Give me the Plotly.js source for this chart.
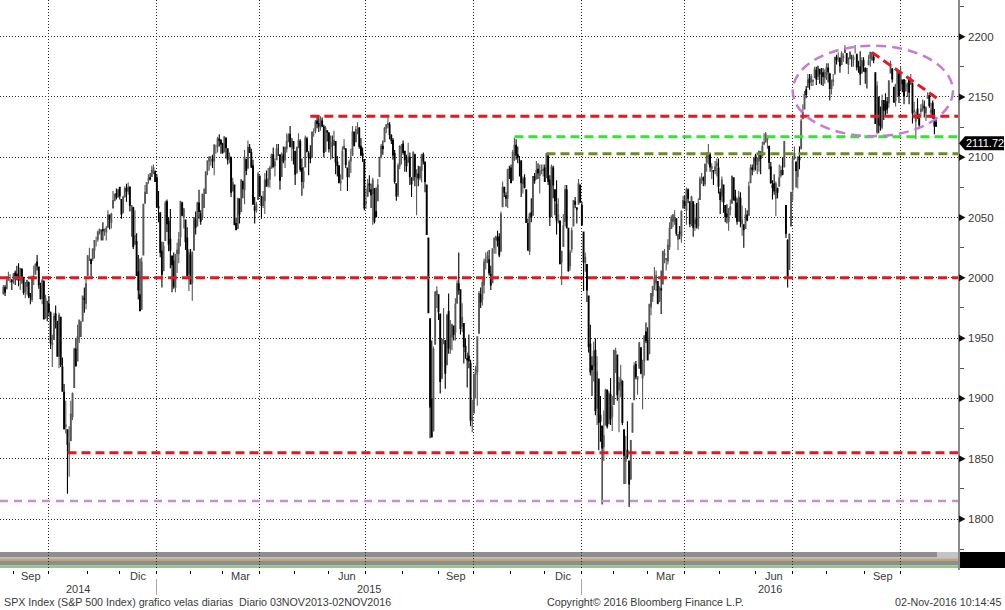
<!DOCTYPE html>
<html><head><meta charset="utf-8">
<script src="https://cdn.plot.ly/plotly-3.0.1.min.js"></script>
<style>html,body{margin:0;padding:0;background:#fff;}#chart{width:1005px;height:610px;}</style>
</head><body><div id="chart"></div>
<script>
// ---------- DATA ----------
const startDate = '2014-08-21';
const endDate = '2016-11-01';
const holidays = ['2014-09-01','2014-11-27','2014-12-25','2015-01-01','2015-01-19','2015-02-16','2015-04-03','2015-05-25','2015-07-03','2015-09-07','2015-11-26','2015-12-25','2016-01-01','2016-01-18','2016-02-15','2016-03-25','2016-05-30','2016-07-04','2016-09-05'];

const open = [
1987,1992,1991,1998,2000,1998,1999,
2004,2003,2001,1998,2007,2000,1989,1993,1996,1987,1982,1999,2003,2013,2009,1993,1983,1997,1967,1978,1978,
1971,1945,1949,1970,1964,1935,1967,1926,1905,1877,1874,1855,1865,1885,1909,1941,1931,1951,1962,1964,1983,1979,2002,
2018,2015,2016,2023,2032,2032,2038,2038,2040,2039,2038,2042,2052,2046,2058,2064,2070,2067,2075,
2065,2054,2067,2074,2072,2075,2056,2058,2028,2030,2005,1986,1974,2019,2062,2070,2081,2083,2084,2087,2088,2083,
2059,2054,2022,2006,2031,2063,2047,2032,2018,2014,1992,2020,2020,2034,2062,2050,2048,2033,2003,2019,
1996,2023,2048,2043,2062,2053,2050,2068,2070,2089,2097,2100,2098,2097,2110,2109,2115,2114,2111,
2105,2116,2107,2099,2100,2072,2077,2045,2041,2065,2055,2080,2073,2098,2091,2108,2104,2093,2059,2056,2065,2084,
2067,2060,2064,2081,2077,2082,2091,2102,2093,2098,2105,2102,2084,2102,2098,2107,2113,2119,2109,2113,2105,
2087,2108,2113,2091,2080,2092,2115,2103,2100,2100,2123,2122,2130,2128,2125,2130,2125,2105,2122,2120,
2109,2110,2110,2113,2096,2093,2079,2082,2107,2107,2091,2084,2097,2102,2121,2113,2124,2124,2109,2103,2098,2062,
2068,2078,2073,2070,2074,2055,2064,2084,2100,2109,2113,2124,2127,2127,2118,2114,2103,2078,2069,2093,2107,2111,
2105,2097,2096,2100,2083,2081,2102,2082,2086,2083,2089,2102,2096,2077,2033,1966,1899,1873,1945,1986,1986,
1970,1917,1951,1948,1928,1972,1941,1951,1960,1955,1979,1995,1990,1960,1962,1943,1933,1935,1929,1882,1888,
1920,1922,1954,1986,1982,1994,2013,2016,2015,2003,1996,2025,2032,2033,2034,2022,2059,2075,2068,2066,2089,2091,
2081,2102,2110,2102,2099,2097,2078,2083,2073,2045,2022,2054,2052,2084,2082,2090,2085,2089,2089,2091,
2083,2101,2081,2051,2091,2073,2061,2047,2047,2013,2026,2047,2073,2041,2010,2024,2043,2063,2058,2061,2077,2060,
2038,2013,2011,1985,1945,1927,1927,1940,1892,1916,1886,1877,1860,1878,1907,1879,1903,1885,1895,
1937,1936,1907,1911,1914,1874,1848,1857,1848,1833,1872,1899,1928,1916,1925,1942,1917,1931,1955,1948,
1937,1976,1985,1994,1996,1997,1981,1991,1995,2019,2015,2014,2026,2041,2047,2048,2049,2032,2038,2035,2058,2063,
2056,2073,2063,2046,2063,2045,2050,2043,2065,2083,2083,2078,2096,2100,2102,2091,2089,2089,2093,2091,2071,
2068,2077,2060,2053,2047,2057,2062,2083,2067,2062,2047,2066,2045,2044,2041,2052,2052,2079,2091,2090,2101,
2094,2097,2104,2101,2111,2113,2115,2109,2092,2077,2078,2066,2074,2076,2085,2089,2092,2060,2031,2007,2043,2073,
2099,2096,2084,2100,2107,2132,2140,2156,2158,2165,2163,2163,2166,2172,2167,2173,2169,2170,2166,2169,
2174,2169,2157,2163,2169,2183,2182,2182,2177,2183,2187,2186,2177,2182,2184,2181,2187,2185,2173,2175,2170,2180,2174,
2171,2177,2182,2186,2183,2170,2121,2150,2128,2125,2147,2144,2146,2145,2170,2173,2158,2147,2161,2169,2156,
2164,2164,2155,2159,2164,2161,2161,2138,2130,2140,2132,2138,2140,2142,2137,2149,2151,2137,2145,2133,
2129
];
const high = [
1994,1994,2001,2005,2003,1999,2004,
2006,2010,2012,2008,2008,2001,1996,1998,1997,1987,2002,2010,2012,2019,2009,1996,1999,1998,1986,1981,1985,
1972,1953,1971,1977,1964,1971,1968,1934,1912,1898,1874,1877,1898,1905,1942,1950,1961,1965,1964,1985,1992,1999,2019,
2025,2016,2024,2031,2034,2039,2041,2040,2046,2041,2043,2056,2052,2054,2072,2070,2074,2073,2075,
2065,2068,2076,2078,2079,2076,2060,2059,2056,2037,2019,2016,2017,2061,2077,2079,2086,2087,2093,2094,2089,2086,
2072,2054,2030,2030,2064,2065,2050,2057,2018,2021,2020,2029,2038,2064,2063,2058,2048,2042,2024,2024,
2022,2050,2055,2063,2073,2056,2070,2074,2088,2097,2101,2101,2102,2111,2110,2117,2119,2115,2112,
2117,2116,2107,2104,2100,2083,2077,2050,2066,2066,2082,2080,2106,2099,2114,2111,2107,2098,2067,2063,2088,2085,
2068,2072,2087,2089,2091,2093,2103,2108,2099,2111,2111,2102,2104,2109,2109,2120,2120,2126,2116,2113,2105,
2109,2120,2115,2099,2092,2118,2117,2105,2110,2121,2124,2131,2134,2135,2134,2133,2127,2126,2122,2121,
2118,2118,2122,2113,2101,2093,2086,2109,2115,2107,2091,2098,2107,2126,2121,2126,2129,2125,2116,2108,2098,2074,
2082,2085,2078,2083,2074,2075,2082,2100,2111,2114,2125,2127,2133,2129,2119,2116,2106,2078,2095,2110,2111,2114,
2105,2102,2112,2104,2083,2105,2103,2090,2093,2092,2103,2104,2096,2077,2033,1966,1948,1943,1989,1993,1986,
1970,1949,1975,1948,1970,1987,1965,1962,1960,1983,1998,2021,1990,1979,1962,1950,1938,1953,1932,1899,1920,
1927,1951,1989,1992,1999,2016,2021,2022,2023,2010,2024,2033,2035,2039,2037,2055,2080,2075,2071,2090,2093,2094,
2106,2116,2115,2109,2101,2097,2084,2086,2073,2049,2054,2066,2084,2087,2097,2095,2094,2094,2094,2094,
2103,2104,2085,2094,2093,2073,2081,2066,2047,2022,2053,2077,2077,2041,2023,2042,2064,2067,2058,2082,2077,2063,
2038,2021,2011,1985,1961,1935,1947,1950,1935,1916,1902,1877,1890,1908,1907,1906,1917,1902,1940,
1942,1936,1918,1928,1915,1874,1869,1881,1848,1865,1896,1930,1931,1918,1947,1942,1932,1952,1963,1959,
1978,1986,1993,2009,2006,1997,1993,2006,2022,2024,2016,2032,2046,2052,2053,2056,2049,2036,2043,2056,2068,2068,
2075,2074,2063,2068,2063,2061,2062,2066,2084,2087,2084,2095,2104,2111,2104,2095,2089,2097,2099,2099,2074,
2084,2077,2060,2061,2058,2065,2085,2083,2073,2066,2072,2071,2060,2044,2058,2056,2080,2094,2094,2100,2103,
2100,2105,2105,2113,2120,2121,2118,2109,2096,2081,2086,2080,2075,2094,2093,2100,2113,2060,2032,2037,2071,2099,
2109,2096,2101,2109,2132,2144,2155,2159,2169,2169,2169,2164,2175,2175,2176,2173,2174,2174,2173,2178,
2178,2170,2164,2169,2183,2185,2187,2183,2188,2186,2193,2186,2183,2188,2185,2185,2193,2186,2180,2188,2183,2183,2174,
2174,2185,2186,2187,2185,2170,2163,2150,2142,2152,2147,2153,2150,2164,2180,2174,2158,2161,2172,2172,2175,
2164,2165,2164,2162,2165,2169,2162,2146,2138,2149,2136,2144,2148,2147,2142,2154,2152,2145,2147,2140,2133,
2131
];
const low = [
1986,1985,1991,1998,1996,1990,1995,
1994,1998,1993,1990,1995,1986,1983,1986,1983,1978,1980,1994,2003,2006,1991,1982,1978,1966,1966,1964,1968,
1941,1926,1949,1958,1935,1925,1926,1906,1874,1871,1821,1835,1865,1882,1909,1927,1931,1946,1951,1964,1971,1974,2002,
2014,2001,2014,2016,2026,2030,2036,2031,2031,2035,2031,2042,2040,2041,2058,2064,2065,2067,2065,
2049,2054,2067,2063,2069,2055,2034,2024,2028,2002,1982,1972,1974,2019,2062,2070,2078,2081,2084,2086,2080,2058,
2046,2017,1992,2006,2031,2038,2022,2008,1988,1991,1988,2004,2012,2026,2051,2041,2023,2001,1989,1995,
1981,2023,2036,2043,2049,2044,2048,2058,2070,2085,2089,2093,2091,2085,2103,2104,2109,2103,2103,
2104,2099,2094,2095,2067,2072,2044,2040,2041,2045,2055,2066,2061,2085,2091,2104,2091,2061,2045,2054,2065,2067,
2049,2058,2053,2076,2075,2075,2091,2092,2084,2098,2101,2073,2084,2095,2091,2104,2113,2108,2097,2094,2077,
2087,2108,2088,2068,2074,2092,2104,2085,2095,2100,2117,2120,2124,2121,2122,2125,2100,2105,2113,2104,
2098,2099,2110,2086,2084,2079,2072,2082,2106,2091,2072,2083,2087,2101,2109,2113,2119,2107,2101,2096,2056,2057,
2067,2071,2058,2044,2045,2050,2064,2084,2099,2102,2113,2120,2124,2115,2111,2098,2078,2064,2067,2090,2094,2102,
2088,2088,2096,2077,2067,2081,2076,2052,2076,2081,2079,2094,2071,2036,1971,1867,1868,1873,1945,1975,1965,
1904,1916,1945,1908,1928,1937,1937,1940,1948,1948,1979,1986,1953,1955,1929,1933,1909,1925,1877,1872,1888,
1900,1894,1954,1975,1977,1987,2007,2012,2002,1990,1996,2020,2020,2026,2017,2022,2059,2067,2059,2058,2082,2079,
2081,2097,2098,2095,2084,2067,2070,2074,2046,2023,2019,2046,2052,2078,2082,2082,2070,2086,2084,2080,
2083,2077,2043,2051,2066,2052,2036,2045,2011,1994,2026,2043,2041,2005,2006,2021,2043,2058,2045,2061,2062,2043,
1989,2005,1980,1938,1919,1902,1914,1886,1878,1857,1864,1812,1848,1878,1875,1879,1878,1873,1895,
1921,1898,1872,1901,1878,1829,1829,1850,1810,1833,1872,1899,1916,1903,1925,1920,1891,1919,1946,1932,
1937,1969,1980,1990,1989,1978,1980,1970,1995,2012,2006,2011,2023,2041,2042,2044,2035,2023,2032,2029,2058,2057,
2044,2062,2042,2043,2034,2039,2041,2040,2065,2078,2076,2076,2088,2094,2088,2082,2077,2086,2084,2070,2053,
2063,2054,2046,2045,2039,2052,2062,2064,2050,2044,2047,2042,2035,2025,2041,2047,2052,2079,2085,2088,2089,
2086,2088,2086,2101,2110,2112,2107,2090,2078,2065,2069,2051,2066,2076,2083,2085,2092,2033,1992,2007,2043,2064,
2098,2075,2074,2090,2107,2132,2140,2149,2158,2156,2159,2159,2166,2160,2164,2161,2160,2159,2161,2164,
2162,2147,2152,2159,2169,2177,2179,2170,2177,2179,2187,2178,2169,2181,2175,2175,2186,2172,2170,2160,2170,2171,2161,
2157,2176,2175,2180,2178,2128,2119,2120,2122,2123,2131,2135,2136,2141,2170,2162,2145,2142,2151,2145,2156,
2154,2144,2155,2150,2144,2160,2128,2132,2115,2132,2124,2135,2138,2133,2130,2149,2141,2133,2132,2119,2125,
2098
];
const close = [
1992,1988,1998,2000,2000,1997,2003,
2002,2001,1998,2008,2001,1988,1996,1998,1985,1984,1999,2001,2011,2010,1994,1983,1998,1966,1983,1978,1972,
1946,1946,1968,1965,1935,1969,1928,1906,1875,1878,1862,1863,1887,1904,1941,1927,1951,1965,1962,1985,1982,1995,2018,
2018,2012,2024,2031,2032,2038,2040,2038,2039,2040,2041,2052,2049,2053,2064,2069,2067,2073,2068,
2053,2067,2074,2072,2075,2060,2060,2026,2035,2002,1990,1973,2013,2061,2071,2079,2082,2082,2089,2091,2080,2059,
2058,2021,2003,2026,2062,2045,2028,2023,2011,1993,2019,2023,2032,2063,2052,2057,2030,2002,2021,1995,
2021,2050,2042,2062,2055,2047,2069,2068,2088,2097,2100,2100,2097,2110,2110,2115,2114,2111,2104,
2117,2108,2098,2101,2071,2079,2044,2040,2066,2053,2081,2074,2100,2089,2108,2104,2092,2061,2056,2061,2086,2068,
2060,2067,2081,2076,2082,2091,2102,2092,2096,2107,2105,2081,2100,2097,2108,2113,2118,2109,2115,2107,2086,
2108,2114,2090,2080,2088,2116,2105,2100,2099,2121,2123,2129,2128,2126,2131,2126,2104,2124,2121,2107,
2112,2110,2114,2096,2093,2079,2080,2105,2109,2094,2084,2096,2100,2121,2110,2123,2124,2109,2102,2101,2058,2063,
2077,2077,2069,2081,2047,2051,2077,2100,2109,2107,2124,2127,2128,2119,2114,2102,2080,2068,2093,2109,2109,2104,
2098,2093,2100,2084,2078,2104,2084,2086,2083,2092,2102,2097,2080,2036,1971,1893,1868,1941,1988,1989,1972,
1914,1949,1951,1921,1969,1942,1952,1961,1953,1978,1995,1990,1958,1967,1943,1939,1932,1931,1882,1884,1920,
1924,1951,1987,1980,1996,2013,2015,2018,2004,1994,2024,2033,2034,2031,2019,2053,2075,2071,2066,2090,2089,2079,
2104,2110,2102,2100,2099,2079,2082,2075,2046,2023,2053,2050,2084,2081,2089,2087,2089,2089,2090,2080,
2103,2080,2050,2092,2077,2064,2048,2052,2012,2022,2043,2073,2042,2006,2021,2039,2064,2061,2057,2078,2063,2044,
2013,2017,1990,1943,1922,1924,1939,1890,1922,1880,1881,1859,1869,1907,1877,1904,1883,1893,1940,
1939,1903,1913,1916,1880,1853,1852,1852,1829,1865,1896,1927,1918,1918,1946,1921,1930,1952,1948,1932,
1978,1987,1993,2000,2002,1979,1989,1990,2022,2020,2016,2027,2041,2050,2052,2050,2037,2036,2037,2055,2064,2060,
2073,2066,2045,2067,2042,2048,2042,2062,2082,2083,2081,2094,2101,2102,2092,2092,2088,2092,2095,2076,2065,
2081,2063,2051,2051,2057,2059,2084,2065,2064,2047,2067,2047,2048,2040,2052,2048,2076,2091,2090,2099,2097,
2099,2105,2099,2109,2112,2119,2116,2096,2079,2075,2072,2078,2071,2083,2089,2086,2113,2037,2001,2036,2071,2099,
2103,2089,2100,2098,2130,2137,2152,2152,2164,2162,2167,2164,2173,2165,2175,2169,2169,2167,2170,2174,
2171,2157,2164,2164,2183,2181,2182,2176,2186,2184,2190,2178,2182,2187,2184,2183,2187,2175,2173,2169,2180,2176,2171,
2171,2180,2187,2186,2181,2128,2159,2127,2126,2147,2139,2139,2140,2163,2177,2165,2146,2160,2171,2151,2168,
2161,2151,2160,2161,2154,2164,2137,2139,2133,2133,2127,2140,2144,2141,2141,2151,2143,2139,2133,2126,2126,
2112
];
const lastPrice = 2111.72;
const yTicks = [1800,1850,1900,1950,2000,2050,2100,2150,2200];
const monthNames = ['Ene','Feb','Mar','Abr','May','Jun','Jul','Ago','Sep','Oct','Nov','Dic'];
const labeledMonths = [3,6,9,12];
// support / resistance levels drawn on the chart
const levelValues = [2000, 1855, 1815, 2134, 2117, 2103];
const levelStarts = [null, '2014-10-15', null, '2015-05-13', '2015-11-03', '2015-12-01'];
const trendStart = ['2016-09-07', 2187];
const trendEnd = ['2016-11-01', 2149];
const ellipseY = [2117.5, 2192.5];
const footLeft = 'SPX Index (S&P 500 Index) grafico velas diarias\u00a0\u00a0Diario 03NOV2013-02NOV2016';
const footMid = 'Copyright\u00a9 2016 Bloomberg Finance L.P.';
const footRight = '02-Nov-2016 10:14:45';

// ---------- trading calendar ----------
const dates = [];
for (let d = new Date(startDate + 'T00:00:00Z'); d <= new Date(endDate + 'T00:00:00Z'); d.setUTCDate(d.getUTCDate() + 1)) {
  const wd = d.getUTCDay(); const s = d.toISOString().slice(0, 10);
  if (wd === 0 || wd === 6 || holidays.includes(s)) continue;
  dates.push(s);
}
const n = Math.min(dates.length, open.length, high.length, low.length, close.length);
const xs = []; for (let i = 0; i < n; i++) xs.push(i);
const idxOf = s => dates.indexOf(s);

// ---------- geometry ----------
const W = 1005, H = 610, PW = 958, PH = 570; // plot area in px
const xr = [-2, 566];
const y1800 = 519, pxPerPt = 1.2058;
const yr = [1800 - (PH - y1800) / pxPerPt, 1800 + y1800 / pxPerPt];
const py = p => (PH - p) / PH;          // pixel y -> paper y
const pxp = p => p / PW;               // pixel x -> paper x
const xToPaper = v => (v - xr[0]) / (xr[1] - xr[0]);
const yToPaper = v => (v - yr[0]) / (yr[1] - yr[0]);

// month / quarter boundaries
const GOFF = 1.2;
const mStarts = [];
for (let i = 0; i < n; i++) if (i === 0 || dates[i].slice(0, 7) !== dates[i - 1].slice(0, 7)) mStarts.push(i);
const monthBounds = mStarts.filter(i => i > 0).map(i => i - GOFF);
const quarterBounds = mStarts.filter(i => i > 0 && [1, 4, 7, 10].includes(+dates[i].slice(5, 7))).map(i => i - GOFF);

const annotations = [];
const shapes = [];
const TXT = '#3a3a3a';
const FONT = 'Liberation Sans, Arial, sans-serif';

// month labels
mStarts.forEach((s, k) => {
  const m = +dates[s].slice(5, 7);
  if (!labeledMonths.includes(m)) return;
  const left = s === 0 ? xr[0] : s - GOFF;
  const right = k + 1 < mStarts.length ? mStarts[k + 1] - GOFF : xr[1];
  annotations.push({ x: (left + right) / 2, xref: 'x', y: py(576), yref: 'paper', text: monthNames[m - 1], showarrow: false, xanchor: 'center', yanchor: 'middle', font: { family: FONT, size: 11, color: TXT } });
});
// year labels and separators
const jan = mStarts.filter(i => dates[i].slice(5, 7) === '01');
const yb = [xr[0], ...jan.map(i => i - GOFF), xr[1]];
for (let k = 0; k < yb.length - 1; k++) {
  const yrTxt = k === 0 ? dates[0].slice(0, 4) : dates[jan[k - 1]].slice(0, 4);
  annotations.push({ x: (yb[k] + yb[k + 1]) / 2, xref: 'x', y: py(589), yref: 'paper', text: yrTxt, showarrow: false, xanchor: 'center', yanchor: 'middle', font: { family: FONT, size: 11, color: TXT } });
}
jan.forEach(i => shapes.push({ type: 'line', xref: 'paper', yref: 'paper', x0: xToPaper(i - GOFF), x1: xToPaper(i - GOFF), y0: py(579), y1: py(595), line: { color: '#a8a8a8', width: 1 } }));

// bottom bands (secondary panel strip)
const band = (y0, y1, c, x0 = 0, x1 = PW) => shapes.push({ type: 'rect', layer: 'below', xref: 'paper', yref: 'paper', x0: pxp(x0), x1: pxp(x1), y0: py(y0), y1: py(y1), line: { width: 0 }, fillcolor: c });
band(552, 557.5, '#8e8e8e');
band(557.5, 559, '#b9b9b9');
band(559, 561, '#c7a46a');
band(561, 565.5, '#8e8e8e');
band(565.5, 568, '#8cc98c');
band(552, 557.5, '#c4c4c4', 937, PW);
band(552, 568, '#000000', 960, W);

// right-axis tick labels with arrow markers
yTicks.forEach(v => {
  const yp = yToPaper(v), h = 3.5 / PH;
  shapes.push({ type: 'path', xref: 'paper', yref: 'paper', fillcolor: '#111', line: { width: 0 },
    path: `M ${pxp(959)} ${yp + h} L ${pxp(965.5)} ${yp} L ${pxp(959)} ${yp - h} Z` });
  annotations.push({ x: pxp(966), xref: 'paper', y: v, yref: 'y', text: String(v), showarrow: false, xanchor: 'left', yanchor: 'middle', font: { family: FONT, size: 11.5, color: TXT } });
});

// horizontal levels
const lvlStyle = [
  { color: '#e8161e', width: 3, dash: '9px,5px' },
  { color: '#e8161e', width: 3, dash: '9px,5px' },
  { color: '#c58fd0', width: 2.5, dash: '8px,6px' },
  { color: '#e8161e', width: 3, dash: '9px,5px' },
  { color: '#36e236', width: 3, dash: '9px,5px' },
  { color: '#6b8e23', width: 3, dash: '9px,5px' }
];
levelValues.forEach((v, k) => {
  const x0 = levelStarts[k] ? idxOf(levelStarts[k]) : xr[0];
  shapes.push({ type: 'line', xref: 'x', yref: 'y', x0: x0, x1: xr[1], y0: v, y1: v, line: lvlStyle[k], layer: 'above' });
});
// trend line
shapes.push({ type: 'line', xref: 'x', yref: 'y', x0: idxOf(trendStart[0]), y0: trendStart[1], x1: idxOf(trendEnd[0]) - 0.5, y1: trendEnd[1], line: { color: '#e8161e', width: 3, dash: '9px,5px' } });
// ellipse
shapes.push({ type: 'circle', xref: 'x', yref: 'y', x0: idxOf('2016-07-01') - 1, x1: n - 1 + 10, y0: ellipseY[0], y1: ellipseY[1], line: { color: '#c77ad6', width: 2.5, dash: '10px,6px' } });

// last price tag
const lp = yToPaper(lastPrice);
const hh = 7 / PH;
shapes.push({ type: 'path', xref: 'paper', yref: 'paper', fillcolor: '#000', line: { width: 0 },
  path: `M ${pxp(959)} ${lp} L ${pxp(965)} ${lp + hh} L ${pxp(1004)} ${lp + hh} L ${pxp(1004)} ${lp - hh} L ${pxp(965)} ${lp - hh} Z` });
annotations.push({ x: pxp(984.5), xref: 'paper', y: lastPrice, yref: 'y', text: lastPrice.toFixed(2), showarrow: false, xanchor: 'center', yanchor: 'middle', font: { family: FONT, size: 11, color: '#fff' } });

// footer
annotations.push({ x: pxp(2), xref: 'paper', y: py(602), yref: 'paper', text: footLeft, showarrow: false, xanchor: 'left', yanchor: 'middle', font: { family: FONT, size: 10.7, color: TXT } });
annotations.push({ x: pxp(545), xref: 'paper', y: py(602), yref: 'paper', text: footMid, showarrow: false, xanchor: 'left', yanchor: 'middle', font: { family: FONT, size: 10.7, color: TXT } });
annotations.push({ x: pxp(1003), xref: 'paper', y: py(602), yref: 'paper', text: footRight, showarrow: false, xanchor: 'right', yanchor: 'middle', font: { family: FONT, size: 10.7, color: TXT } });

const trace = {
  type: 'candlestick', x: xs, open: open.slice(0, n), high: high.slice(0, n), low: low.slice(0, n), close: close.slice(0, n),
  increasing: { line: { color: '#585858', width: 1.1 }, fillcolor: '#8f8f8f' },
  decreasing: { line: { color: '#000000', width: 1.1 }, fillcolor: '#000000' },
  whiskerwidth: 0, hoverinfo: 'skip', showlegend: false
};

const layout = {
  width: W, height: H,
  margin: { l: 0, r: W - PW, t: 0, b: H - PH },
  paper_bgcolor: '#ffffff', plot_bgcolor: 'rgba(0,0,0,0)',
  showlegend: false, hovermode: false,
  xaxis: {
    range: xr, rangeslider: { visible: false }, showticklabels: false, zeroline: false, showline: false,
    tickmode: 'array', tickvals: quarterBounds, ticks: 'outside', ticklen: 3, tickcolor: '#000', tickwidth: 1,
    showgrid: true, gridcolor: '#2a2a2a', gridwidth: 1, griddash: '1px,2px',
    minor: { tickmode: 'array', tickvals: monthBounds, ticks: 'outside', ticklen: 3, tickcolor: '#000', showgrid: false }
  },
  yaxis: {
    side: 'right', range: yr, zeroline: false,
    tickmode: 'array', tickvals: yTicks, showticklabels: false, ticks: '',
    showgrid: true, gridcolor: '#2a2a2a', gridwidth: 1, griddash: '1px,2px',
    showline: true, linecolor: '#8a8a8a', linewidth: 2,
    minor: { tick0: 1775, dtick: 25, ticks: 'outside', ticklen: 4, tickcolor: '#555', showgrid: false }
  },
  shapes: shapes, annotations: annotations
};
Plotly.newPlot('chart', [trace], layout, { staticPlot: true, displayModeBar: false });
</script>
</body></html>
